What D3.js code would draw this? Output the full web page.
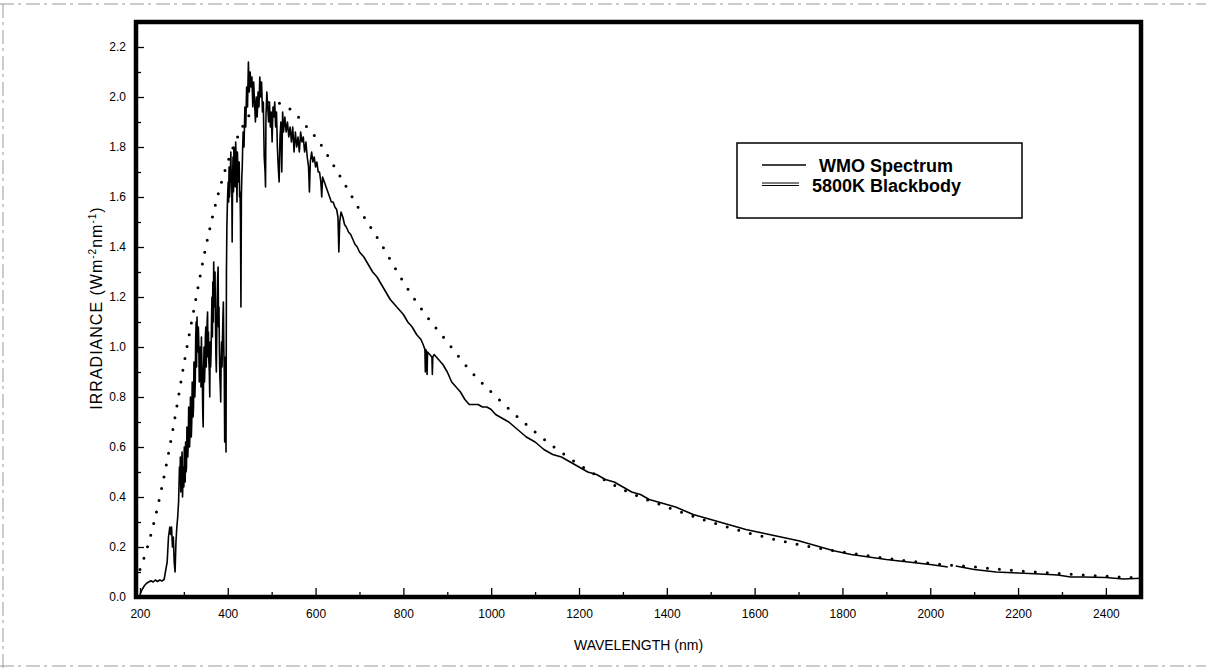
<!DOCTYPE html>
<html>
<head>
<meta charset="utf-8">
<script src="https://cdn.jsdelivr.net/npm/d3@7"></script>
<style>
  body { margin: 0; background: #fff; }
  svg { display: block; font-family: "Liberation Sans", Arial, sans-serif; }
</style>
</head>
<body>
<script>
(function() {

    // WMO spectrum (nm, W m-2 nm-1); null = gap in trace
    var wmoNm = [200, 205, 210, 215, 220, 225, 230, 235, 240, 245, 250, 255, 258, 262, 265, 268, 270, 272, 274, 276, 278, 280, 282, 284, 286, 288,
        290, 291, 292, 293, 294, 295, 296, 297, 298, 299, 300, 301, 302, 303, 304, 305, 306, 307, 308, 309, 310, 311, 312, 313, 314, 315, 316, 317, 318, 319,
        320, 321, 322, 323, 324, 325, 326, 327, 328, 329, 330, 331, 332, 333, 334, 335, 336, 337, 338, 339,
        340, 341, 342, 343, 344, 345, 346, 347, 348, 349, 350, 351, 352, 353, 354, 355, 356, 357, 358, 359, 360, 361, 362, 363, 364, 365, 366, 367, 368, 369,
        370, 371, 372, 373, 374, 375, 376, 377, 378, 379, 380, 381, 382, 383, 384, 385, 386, 387, 388, 389,
        390, 391, 392, 393, 394, 395, 396, 397, 398, 399, 400, 401, 402, 403, 404, 405, 406, 407, 408, 409, 410, 411, 412, 413, 414, 415, 416, 417, 418, 419,
        420, 421, 422, 423, 424, 425, 426, 427, 428, 429, 430, 431, 432, 433, 434,
        435, 437, 439, 441, 443, 445, 447, 449, 451, 453, 455, 457, 459, 461, 463, 465, 467, 469, 471, 473, 475, 477, 479, 481, 483,
        485, 486, 487, 489, 491, 493, 495, 497, 499, 501, 503, 505, 507, 509, 511, 513, 515, 517, 519, 521, 523, 525, 527, 530, 533,
        536, 539, 542, 545, 548, 551, 554, 557, 560, 563, 566, 569, 572, 575, 578, 581, 584, 586, 588, 591, 594, 597, 600, 603, 606,
        609, 612, 614, 616, 620, 624, 628, 632, 636, 640, 644, 648, 651, 653, 655, 658, 662, 666, 670, 675, 680, 685, 690, 695, 700,
        710, 720, 730, 740, 750, 760, 770, 780, 790, 800, 810, 820, 830, 840, 845, 849, 850, 851, 853, 854, 855, 860, 865, 866, 867,
        870, 880, 890, 900, 910, 920, 930, 940, 950, 960, 970, 980, 990, 1000, 1010, 1020, 1040, 1060, 1080, 1100, 1120, 1140, 1160,
        1180, 1200, 1220, 1240, 1260, 1280, 1300, 1320, 1340, 1360, 1380, 1400, 1420, 1440, 1460, 1480, 1500, 1540, 1580, 1620, 1660,
        1700, 1740, 1780, 1820, 1860, 1900, 1950, 2000, 2040, 2050, 2058, 2100, 2150, 2200, 2250, 2290, 2320, 2350, 2400, 2440, 2480];

    var wmoVal = [0.01, 0.03, 0.045, 0.055, 0.06, 0.065, 0.06, 0.068, 0.062, 0.068, 0.064, 0.07, 0.10, 0.14, 0.24, 0.28, 0.25, 0.28, 0.20, 0.24, 0.14, 0.10, 0.22, 0.28, 0.32, 0.38,
        0.52, 0.46, 0.56, 0.42, 0.50, 0.54, 0.58, 0.40, 0.48, 0.52, 0.44, 0.60, 0.54, 0.46, 0.62, 0.50, 0.52, 0.68, 0.66, 0.56, 0.62, 0.76, 0.72, 0.60, 0.66, 0.80, 0.78, 0.64, 0.70, 0.86,
        0.84, 0.72, 0.76, 0.94, 0.92, 0.80, 0.86, 1.04, 1.10, 0.92, 1.12, 1.00, 0.98, 1.08, 1.02, 0.86, 0.90, 1.00, 0.96, 0.84,
        1.04, 0.94, 0.88, 0.74, 0.68, 0.90, 1.00, 0.86, 0.92, 1.04, 1.08, 0.92, 1.00, 1.10, 1.14, 0.96, 1.06, 0.94, 0.90, 0.80, 1.02, 0.92, 0.98, 1.10, 1.20, 1.04, 1.26, 1.10, 1.34, 1.16,
        1.20, 1.30, 1.10, 0.96, 0.90, 1.06, 1.20, 1.28, 1.32, 1.08, 1.16, 0.98, 0.88, 0.84, 0.78, 0.96, 1.02, 0.92, 1.04, 1.12,
        1.18, 1.00, 0.90, 0.62, 0.86, 0.96, 0.58, 1.30, 1.48, 1.56, 1.62, 1.66, 1.58, 1.72, 1.60, 1.64, 1.70, 1.78, 1.66, 1.70, 1.42, 1.68, 1.76, 1.62, 1.80, 1.74, 1.72, 1.64, 1.82, 1.76,
        1.70, 1.58, 1.78, 1.72, 1.66, 1.70, 1.74, 1.60, 1.62, 1.50, 1.16, 1.60, 1.68, 1.72, 1.80,
        1.86, 1.80, 1.96, 1.88, 2.04, 1.96, 2.14, 2.02, 2.10, 2.04, 2.08, 1.96, 2.06, 1.98, 1.90, 2.00, 1.92, 2.02, 1.96, 2.08, 2.00, 2.06, 1.94, 1.98, 1.76,
        1.70, 1.64, 1.92, 2.02, 1.96, 1.90, 1.98, 1.88, 1.94, 1.82, 1.96, 1.92, 1.98, 1.88, 1.94, 1.80, 1.72, 1.66, 1.84, 1.90, 1.70, 1.94, 1.86, 1.92, 1.86,
        1.90, 1.84, 1.88, 1.82, 1.88, 1.78, 1.86, 1.80, 1.84, 1.78, 1.86, 1.82, 1.84, 1.78, 1.82, 1.76, 1.72, 1.62, 1.74, 1.78, 1.74, 1.76, 1.72, 1.74, 1.70,
        1.70, 1.66, 1.60, 1.68, 1.66, 1.64, 1.62, 1.60, 1.58, 1.58, 1.56, 1.55, 1.52, 1.38, 1.50, 1.54, 1.52, 1.49, 1.48, 1.46, 1.45, 1.43, 1.41, 1.40, 1.38,
        1.36, 1.33, 1.30, 1.28, 1.25, 1.22, 1.19, 1.17, 1.15, 1.13, 1.10, 1.08, 1.05, 1.03, 1.01, 0.99, 0.90, 0.99, 0.98, 0.89, 0.98, 0.97, 0.96, 0.89, 0.96,
        0.97, 0.95, 0.93, 0.90, 0.86, 0.84, 0.82, 0.79, 0.77, 0.77, 0.77, 0.76, 0.76, 0.75, 0.73, 0.72, 0.70, 0.67, 0.64, 0.62, 0.59, 0.57, 0.56,
        0.54, 0.52, 0.50, 0.49, 0.47, 0.46, 0.44, 0.42, 0.41, 0.39, 0.38, 0.37, 0.36, 0.345, 0.33, 0.32, 0.31, 0.29, 0.27, 0.255, 0.24,
        0.225, 0.205, 0.185, 0.17, 0.16, 0.15, 0.14, 0.13, 0.12, null, 0.124, 0.11, 0.10, 0.096, 0.092, 0.088, 0.08, 0.08, 0.078, 0.072, 0.075];

    // 5800K blackbody, dotted curve
    var bbNm = [200, 210, 225, 250, 275, 300, 325, 350, 375, 400, 425, 450, 475, 500, 525, 550, 575, 600, 650, 700, 750, 800, 850, 900, 950,
        1000, 1100, 1200, 1300, 1400, 1500, 1600, 1700, 1800, 1900, 2000, 2100, 2200, 2300, 2400, 2480];
    var bbVal = [0.11, 0.16, 0.25, 0.44, 0.67, 0.93, 1.17, 1.40, 1.59, 1.74, 1.85, 1.93, 1.97, 1.98, 1.97, 1.94, 1.89, 1.84, 1.70, 1.55, 1.41, 1.26, 1.13, 1.02, 0.91,
        0.82, 0.66, 0.53, 0.43, 0.36, 0.30, 0.25, 0.21, 0.18, 0.155, 0.135, 0.12, 0.105, 0.093, 0.083, 0.076];

    var xMajor = [200, 400, 600, 800, 1000, 1200, 1400, 1600, 1800, 2000, 2200, 2400]; // labelled
    var xMinor = [300, 500, 700, 900, 1100, 1300, 1500, 1700, 1900, 2100, 2300];
    var yMajor = [0, 0.2, 0.4, 0.6, 0.8, 1.0, 1.2, 1.4, 1.6, 1.8, 2.0, 2.2];
    var yMinor = [0.1, 0.3, 0.5, 0.7, 0.9, 1.1, 1.3, 1.5, 1.7, 1.9, 2.1];

    var legendNames = ['WMO Spectrum', '5800K Blackbody'];

    var W = 1206, H = 672;
    var left = 136, right = 1141, top = 22, bottom = 597;

    var svg = d3.select('body').append('svg')
        .attr('width', W)
        .attr('height', H);

    // faint scanned page edge
    svg.append('path')
        .attr('d', 'M0,4 H1206 M3,4 V668 M0,666 H1206')
        .attr('fill', 'none')
        .attr('stroke', '#999')
        .attr('stroke-width', 1)
        .attr('stroke-dasharray', '14,4,3,5');

    var x = d3.scaleLinear().domain([191, 2480]).range([left, right]);
    var y = d3.scaleLinear().domain([0, 2.3]).range([bottom, top]);

    svg.append('clipPath').attr('id', 'plotclip')
        .append('rect')
        .attr('x', left).attr('y', top)
        .attr('width', right - left).attr('height', bottom - top);

    var plot = svg.append('g').attr('clip-path', 'url(#plotclip)');

    var wmo = wmoNm.map(function(d, i) { return { nm: d, v: wmoVal[i] }; });
    var bb = bbNm.map(function(d, i) { return { nm: d, v: bbVal[i] }; });

    var line = d3.line()
        .defined(function(d) { return d.v !== null; })
        .x(function(d) { return x(d.nm); })
        .y(function(d) { return y(d.v); });

    plot.append('path') // blackbody, dotted
        .datum(bb)
        .attr('d', line.curve(d3.curveMonotoneX))
        .attr('fill', 'none')
        .attr('stroke', '#000')
        .attr('stroke-width', 3)
        .attr('stroke-linecap', 'round')
        .attr('stroke-dasharray', '0,12');

    plot.append('path') // measured spectrum
        .datum(wmo)
        .attr('d', line.curve(d3.curveLinear))
        .attr('fill', 'none')
        .attr('stroke', '#000')
        .attr('stroke-width', 1.6)
        .attr('stroke-linejoin', 'round');

    // ticks point inward
    var fontAxis = 12;

    svg.append('g').attr('transform', 'translate(0,' + bottom + ')')
        .call(d3.axisBottom(x).tickValues(xMajor).tickSize(-9).tickPadding(12).tickFormat(d3.format('d')));
    svg.append('g').attr('transform', 'translate(0,' + bottom + ')')
        .call(d3.axisBottom(x).tickValues(xMinor).tickSize(-5).tickFormat(''));

    svg.append('g').attr('transform', 'translate(' + left + ',0)')
        .call(d3.axisLeft(y).tickValues(yMajor).tickSize(-8).tickPadding(10).tickFormat(d3.format('.1f')));
    svg.append('g').attr('transform', 'translate(' + left + ',0)')
        .call(d3.axisLeft(y).tickValues(yMinor).tickSize(-5).tickFormat(''));

    svg.selectAll('.domain').remove();
    svg.selectAll('.tick line').attr('stroke', '#000').attr('stroke-width', 1.3);
    svg.selectAll('.tick text')
        .attr('fill', '#000')
        .style('font-size', fontAxis + 'px')
        .style('font-family', '"Liberation Sans", Arial, sans-serif');

    // heavy frame
    svg.append('rect')
        .attr('x', left).attr('y', top)
        .attr('width', right - left).attr('height', bottom - top)
        .attr('fill', 'none')
        .attr('stroke', '#000')
        .attr('stroke-width', 4.5);

    // axis titles
    svg.append('text')
        .attr('x', (left + right) / 2)
        .attr('y', 650)
        .attr('text-anchor', 'middle')
        .style('font-size', '14px')
        .text('WAVELENGTH (nm)');

    var yt = svg.append('text')
        .attr('transform', 'translate(102,308) rotate(-90)')
        .attr('text-anchor', 'middle')
        .style('font-size', '16px')
        .style('letter-spacing', '1px');
    yt.append('tspan').text('IRRADIANCE (Wm');
    yt.append('tspan').attr('dy', -6).style('font-size', '10px').text('-2');
    yt.append('tspan').attr('dy', 6).text('nm');
    yt.append('tspan').attr('dy', -6).style('font-size', '10px').text('-1');
    yt.append('tspan').attr('dy', 6).text(')');

    // legend
    var lg = svg.append('g').attr('transform', 'translate(737,143)');
    lg.append('rect')
        .attr('width', 285).attr('height', 75)
        .attr('fill', '#fff')
        .attr('stroke', '#000')
        .attr('stroke-width', 1.5);

    lg.append('line')
        .attr('x1', 25).attr('x2', 69).attr('y1', 22).attr('y2', 22)
        .attr('stroke', '#000').attr('stroke-width', 1.3);
    lg.append('line')
        .attr('x1', 25).attr('x2', 62).attr('y1', 40).attr('y2', 40)
        .attr('stroke', '#000').attr('stroke-width', 1);
    lg.append('line')
        .attr('x1', 25).attr('x2', 62).attr('y1', 42.5).attr('y2', 42.5)
        .attr('stroke', '#000').attr('stroke-width', 1);

    lg.selectAll('text.lab')
        .data(legendNames)
        .enter().append('text')
        .attr('class', 'lab')
        .attr('x', function(d, i) { return i == 0 ? 82 : 75; })
        .attr('y', function(d, i) { return 29 + i * 20; })
        .style('font-size', '18px')
        .style('font-weight', 'bold')
        .text(function(d) { return d; });

})();
</script>
</body>
</html>
